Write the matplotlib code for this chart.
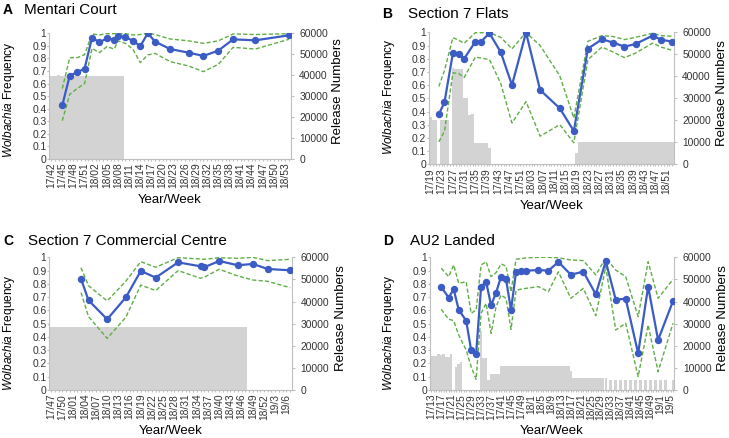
import numpy as np
import matplotlib
matplotlib.use("Agg")
import matplotlib.pyplot as plt

plt.rcParams['font.family'] = ['Liberation Sans', 'DejaVu Sans']
plt.rcParams['mathtext.fontset'] = 'custom'
plt.rcParams['mathtext.rm'] = 'Liberation Sans'
plt.rcParams['mathtext.it'] = 'Liberation Sans:italic'

# ---------------- A: Mentari Court ----------------
labels_a = ['17/42', '17/45', '17/48', '17/51', '18/02', '18/05', '18/08', '18/11',
            '18/14', '18/17', '18/20', '18/23', '18/26', '18/29', '18/32', '18/35',
            '18/38', '18/41', '18/44', '18/47', '18/50', '18/53']
week_a = [3, 5, 7, 9, 11, 13, 15, 17, 18, 20, 22, 24, 26, 28, 32, 37, 41, 45, 49, 55, 64]
freq_a = [0.427, 0.663, 0.69, 0.719, 0.966, 0.928, 0.960, 0.950, 0.981, 0.968, 0.942,
          0.897, 1.0, 0.934, 0.875, 0.846, 0.82, 0.862, 0.952, 0.944, 0.984]
hi_a = [0.56, 0.806, 0.806, 0.83, 0.995, 0.987, 0.997, 0.997, 0.997, 0.997, 0.987,
        0.99, 1.0, 0.99, 0.955, 0.94, 0.92, 0.94, 0.995, 0.99, 0.997]
lo_a = [0.305, 0.515, 0.56, 0.6, 0.88, 0.846, 0.894, 0.875, 0.94, 0.92, 0.873,
        0.767, 0.828, 0.84, 0.775, 0.74, 0.695, 0.753, 0.888, 0.875, 0.952]
release_a = [39800, 39800, 39900, 39800, 39800, 39800, 39700, 39800, 39800, 39800,
             39800, 39800, 39700, 39600, 39800, 39800, 39800, 39800, 39800, 39800,
             0, 0, 0, 0, 0, 0, 0, 0, 0, 0, 0, 0, 0, 0, 0, 0, 0, 0, 0, 0,
             0, 0, 0, 0, 0, 0, 0, 0, 0, 0, 0, 0, 0, 0, 0, 0, 0, 0, 0, 0,
             0, 0, 0, 0, 0]

# ---------------- B: Section 7 Flats ----------------
labels_b = ['17/19', '17/23', '17/27', '17/31', '17/35', '17/39', '17/43', '17/47',
            '17/51', '18/03', '18/07', '18/11', '18/15', '18/19', '18/23', '18/27',
            '18/31', '18/35', '18/39', '18/43', '18/47', '18/51']
week_b = [3, 5, 8, 10, 12, 16, 18, 21, 25, 29, 34, 39, 46, 51, 56, 61, 65, 69, 73, 79, 82, 86]
freq_b = [0.379, 0.47, 0.843, 0.835, 0.80, 0.93, 0.93, 0.993, 0.85, 0.60, 0.998,
          0.563, 0.424, 0.252, 0.876, 0.947, 0.922, 0.891, 0.912, 0.975, 0.944, 0.929]
hi_b = [0.59, 0.71, 0.96, 0.94, 0.917, 0.997, 0.997, 0.997, 0.962, 0.875, 0.998,
        0.90, 0.67, 0.35, 0.932, 0.975, 0.968, 0.945, 0.962, 0.993, 0.975, 0.97]
lo_b = [0.17, 0.25, 0.693, 0.688, 0.658, 0.813, 0.805, 0.793, 0.613, 0.313, 0.475,
        0.213, 0.30, 0.163, 0.793, 0.888, 0.85, 0.808, 0.843, 0.918, 0.888, 0.863]
release_b = [21600, 20200, 20200, 0, 20200, 20000, 20200, 0,
             44000, 43300, 43200, 43300, 30000, 30000, 22500, 23000,
             9840, 9840, 9840, 9840, 9840, 7560,
             0, 0, 0, 0, 0, 0, 0, 0, 0, 0, 0, 0, 0, 0, 0,
             0, 0, 0, 0, 0, 0, 0, 0, 0, 0, 0, 0, 0, 0, 0,
             5000,
             10000, 10000, 10000, 10000, 10000, 10000, 10000, 10000, 10000, 10000,
             10000, 10000, 10000, 10000, 10000, 10000, 10000, 10000, 10000, 10000,
             10000, 10000, 10000, 10000, 10000, 10000, 10000, 10000, 10000, 10000,
             10000, 10000, 10000, 10000]

# ---------------- C: Section 7 Commercial Centre ----------------
labels_c = ['17/47', '17/50', '18/01', '18/04', '18/07', '18/10', '18/13', '18/16',
            '18/19', '18/22', '18/25', '18/28', '18/31', '18/34', '18/37', '18/40',
            '18/43', '18/46', '18/49', '18/52', '19/3', '19/6']
week_c = [8, 10, 15, 20, 24, 28, 34, 40, 41, 45, 50, 54, 58, 64]
freq_c = [0.837, 0.676, 0.533, 0.698, 0.897, 0.847, 0.962, 0.932, 0.925, 0.972,
          0.94, 0.95, 0.912, 0.902]
hi_c = [0.922, 0.786, 0.671, 0.82, 0.967, 0.925, 0.997, 0.987, 0.985, 0.997,
        0.992, 1.0, 0.975, 0.985]
lo_c = [0.734, 0.553, 0.389, 0.548, 0.791, 0.749, 0.90, 0.842, 0.85, 0.91,
        0.859, 0.829, 0.819, 0.771]
release_c = [28300, 28300, 28300, 28300, 28300, 28300, 28300, 28300, 28300, 28300,
             28300, 28300, 28300, 28300, 28300, 28300, 28300, 28300, 28300, 28300,
             28300, 28300, 28300, 28300, 28300, 28300, 28300, 28300, 28300, 28300,
             28300, 28300, 28300, 28300, 28300, 28300, 28300, 28300, 28300, 28300,
             28300, 28300, 28300, 28300, 28300, 28300, 28300, 28300, 28300, 28300,
             28300, 28300, 28300,
             0, 0, 0, 0, 0, 0, 0, 0, 0, 0, 0, 0]

# ---------------- D: AU2 Landed ----------------
labels_d = ['17/13', '17/17', '17/21', '17/25', '17/29', '17/33', '17/37', '17/41',
            '17/45', '17/49', '18/1', '18/5', '18/9', '18/13', '18/17', '18/21',
            '18/25', '18/29', '18/33', '18/37', '18/41', '18/45', '18/49', '19/1', '19/5']
week_d = [4, 7, 9, 11, 14, 16, 18, 20, 22, 24, 26, 28, 30, 32, 34, 36, 38, 43, 47,
          51, 56, 61, 66, 70, 74, 78, 83, 87, 91, 97]
freq_d = [0.776, 0.696, 0.759, 0.605, 0.523, 0.301, 0.274, 0.779, 0.816, 0.638,
          0.733, 0.854, 0.834, 0.603, 0.889, 0.894, 0.899, 0.904, 0.899, 0.965,
          0.869, 0.892, 0.721, 0.97, 0.681, 0.688, 0.276, 0.779, 0.377, 0.671]
hi_d = [0.917, 0.854, 0.942, 0.804, 0.816, 0.578, 0.603, 0.942, 0.967, 0.854,
        0.884, 0.95, 0.934, 0.74, 0.985, 0.99, 0.996, 1.0, 1.0, 0.996,
        0.98, 0.975, 0.867, 0.996, 0.904, 0.854, 0.553, 0.967, 0.691, 0.834]
lo_d = [0.608, 0.533, 0.523, 0.415, 0.302, 0.176, 0.08, 0.578, 0.653, 0.427,
        0.628, 0.716, 0.69, 0.457, 0.75, 0.76, 0.766, 0.779, 0.741, 0.891,
        0.691, 0.766, 0.56, 0.929, 0.452, 0.503, 0.101, 0.49, 0.138, 0.503]
release_d = [15400, 15400, 15400, 16400, 15600, 16200, 15000, 15000, 16200, 0,
             10500, 11600, 12500, 0, 0, 0, 0, 0, 0, 0,
             26700, 14600, 14600, 4500, 7200, 7200, 7200, 7200,
             10700, 10700, 10700, 10700, 10700, 10700, 10700, 10700, 10700, 10700,
             10700, 10700, 10700, 10700, 10700, 10700, 10700, 10700, 10700, 10700,
             10700, 10700, 10700, 10700, 10700, 10700, 10700, 10700,
             8700,
             5200, 5200, 5200, 5200, 5200, 5200, 5200, 5200, 5200, 5200, 5200, 5200, 5200, 5200,
             0, 0, 0, 0, 0, 0, 0, 0, 0, 0, 0, 0, 0, 0, 0, 0, 0, 0, 0, 0, 0, 0, 0, 0, 0, 0,
             4700]
fortnight_week_d = [72, 74, 76, 78, 80, 82, 84, 86, 88, 90, 92, 94]
fortnight_release_d = [4700, 4700, 4700, 4700, 4700, 4700, 4700, 4700, 4700, 4700, 4700, 4700]

BLUE = '#3b5cc4'
GREEN = '#5fae45'
GREY = '#d3d3d3'
AXC = '#bfbfbf'
TXT = '#333333'

W, H = 729, 438
fig = plt.figure(figsize=(W / 100, H / 100), dpi=100)


def px_axes(l, t, r, b):
    return fig.add_axes([l / W, 1 - b / H, (r - l) / W, (b - t) / H])


def px_text(x, y, s, **kw):
    fig.text(x / W, 1 - y / H, s, **kw)


def panel(rect, labels, step, week, freq, hi, lo, release, extra=None):
    ax = px_axes(*rect)
    ax2 = ax.twinx()
    ax.set_zorder(ax2.get_zorder() + 1)
    ax.patch.set_visible(False)

    ax2.bar(np.arange(len(release)), release, width=1.0, color=GREY, linewidth=0)
    if extra is not None:
        ax2.bar(extra[0], extra[1], width=1.35, color=GREY, linewidth=0)
    ax2.set_ylim(0, 60000)
    ax2.set_yticks(range(0, 60001, 10000))

    ax.plot(week, hi, color=GREEN, lw=1.0, dashes=(3, 1.6))
    ax.plot(week, lo, color=GREEN, lw=1.0, dashes=(3, 1.6))
    ax.plot(week, freq, color=BLUE, lw=1.6, marker='o', ms=4.3)
    ax.set_ylim(0, 1)
    yt = np.round(np.arange(0, 1.01, 0.1), 1)
    ax.set_yticks(yt)
    ax.set_yticklabels(['%g' % v for v in yt])
    ax.set_xlim(-0.5, len(release) - 0.5)
    ax.set_xticks([i * step for i in range(len(labels))])
    ax.set_xticklabels(labels, rotation=90)
    ax.set_xticks(np.arange(len(release)), minor=True)

    for a in (ax, ax2):
        a.spines['top'].set_visible(False)
        a.tick_params(which='both', colors=AXC, labelcolor=TXT, labelsize=7.4, width=0.8)
    ax.tick_params(axis='x', which='both', length=1.7, pad=1.0)
    ax.tick_params(axis='y', length=1.5, pad=0.6)
    ax2.tick_params(axis='y', length=2.0, pad=4.2)
    ax.spines['right'].set_visible(False)
    ax2.spines['left'].set_visible(False)
    ax2.spines['bottom'].set_visible(False)
    ax.spines['left'].set_color(AXC)
    ax.spines['bottom'].set_color(AXC)
    ax2.spines['right'].set_color(AXC)
    return ax, ax2


panel((49.3, 33.3, 290.7, 159), labels_a, 3, week_a, freq_a, hi_a, lo_a, release_a)
panel((429, 32.3, 673.7, 164.3), labels_b, 4, week_b, freq_b, hi_b, lo_b, release_b)
panel((49.3, 257.3, 292, 390), labels_c, 3, week_c, freq_c, hi_c, lo_c, release_c)
panel((430, 257.3, 674.3, 390), labels_d, 4, week_d, freq_d, hi_d, lo_d, release_d,
      extra=(fortnight_week_d, fortnight_release_d))

titles = [('A', 'Mentari Court', 3, 24, 14),
          ('B', 'Section 7 Flats', 382, 408, 18),
          ('C', 'Section 7 Commercial Centre', 3, 28, 245),
          ('D', 'AU2 Landed', 383, 410, 245)]
for letter, name, lx, tx, by in titles:
    px_text(lx, by, letter, fontsize=10, fontweight='bold', va='baseline')
    px_text(tx, by, name, fontsize=11, va='baseline')

# axis titles (pixel centres)
ylab = r'$\it{Wolbachia}$ Frequency'
for x, y in [(9, 100), (389, 97), (9, 333), (389, 333)]:
    px_text(x, y, ylab, fontsize=8.6, rotation=90, ha='center', va='center')
for x, y in [(338, 91), (722, 93), (341.5, 318), (723, 318)]:
    px_text(x, y, 'Release Numbers', fontsize=9.5, rotation=90, ha='center', va='center')
for x, y in [(170, 200), (552, 206), (171, 431), (552, 431)]:
    px_text(x, y, 'Year/Week', fontsize=9.5, ha='center', va='center')

fig.savefig('out.png', dpi=100)
